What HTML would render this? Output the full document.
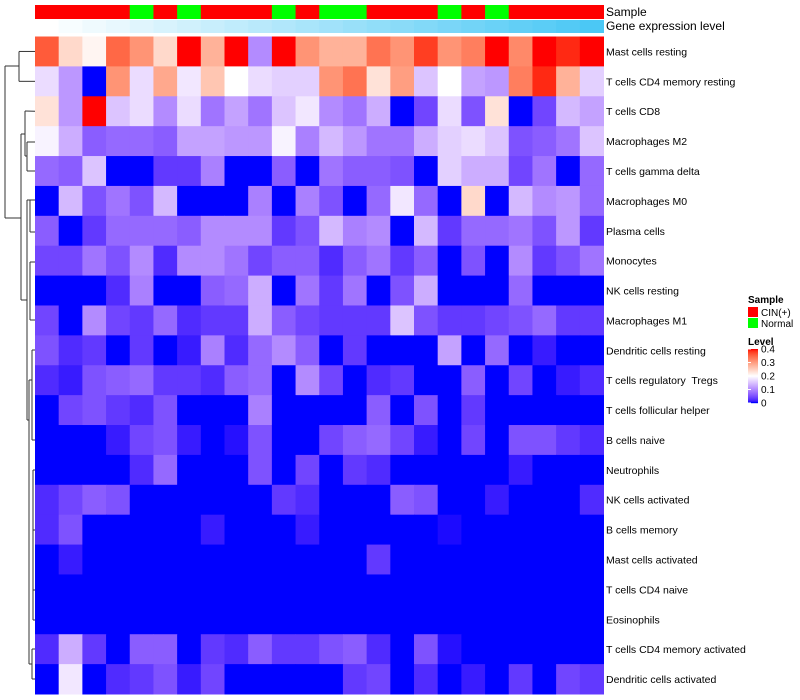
<!DOCTYPE html>
<html><head><meta charset="utf-8"><style>
body{margin:0;background:#fff;width:800px;height:700px;overflow:hidden;font-family:"Liberation Sans",sans-serif}
svg{display:block}
text{white-space:pre}
</style></head><body>
<svg id="c" width="800" height="700" xmlns="http://www.w3.org/2000/svg"></svg>
<script>
const rowNames=["Mast cells resting","T cells CD4 memory resting","T cells CD8","Macrophages M2","T cells gamma delta","Macrophages M0","Plasma cells","Monocytes","NK cells resting","Macrophages M1","Dendritic cells resting","T cells regulatory  Tregs","T cells follicular helper","B cells naive","Neutrophils","NK cells activated","B cells memory","Mast cells activated","T cells CD4 naive","Eosinophils","T cells CD4 memory activated","Dendritic cells activated"];
const sampleGroups=["C","C","C","C","N","C","N","C","C","C","N","C","N","N","C","C","C","N","C","N","C","C","C","C"];
const levelTicks=[0,0.1,0.2,0.3,0.4];
const r0=[0.36,0.24,0.21,0.35,0.31,0.24,0.4,0.28,0.4,0.10,0.4,0.31,0.28,0.28,0.34,0.31,0.38,0.31,0.33,0.4,0.32,0.4,0.39,0.4];
const r1=[0.17,0.11,0,0.31,0.17,0.29,0.18,0.26,0.2,0.17,0.16,0.16,0.31,0.34,0.23,0.30,0.15,0.2,0.12,0.11,0.33,0.39,0.28,0.16];
const r2=[0.23,0.11,0.4,0.15,0.17,0.10,0.17,0.08,0.12,0.08,0.15,0.18,0.10,0.08,0.13,0,0.04,0.17,0.05,0.23,0,0.04,0.14,0.12];
const r3=[0.19,0.13,0.06,0.07,0.07,0.06,0.12,0.12,0.11,0.11,0.19,0.09,0.14,0.11,0.08,0.08,0.13,0.16,0.17,0.15,0.05,0.06,0.08,0.15];
const r4=[0.07,0.06,0.15,0,0,0.03,0.03,0.09,0,0,0.06,0,0.08,0.06,0.06,0.05,0,0.16,0.13,0.13,0.04,0.08,0,0.07];
const r5=[0,0.14,0.05,0.08,0.05,0.14,0,0,0,0.09,0,0.09,0.05,0,0.07,0.18,0.07,0,0.24,0,0.14,0.10,0.11,0.07];
const r6=[0.06,0,0.03,0.07,0.07,0.07,0.06,0.10,0.10,0.10,0.03,0.05,0.14,0.09,0.10,0,0.14,0.03,0.07,0.07,0.08,0.05,0.11,0.03];
const r7=[0.04,0.04,0.08,0.05,0.10,0.02,0.10,0.10,0.08,0.04,0.06,0.06,0.02,0.06,0.08,0.03,0.06,0,0.05,0,0.10,0.03,0.05,0.08];
const r8=[0,0,0,0.02,0.09,0,0,0.06,0.07,0.13,0,0.08,0.03,0.08,0,0.05,0.13,0,0,0,0.07,0,0,0];
const r9=[0.04,0,0.10,0.04,0.03,0.07,0.02,0.03,0.03,0.13,0.06,0.04,0.03,0.03,0.03,0.15,0.05,0.03,0.03,0.04,0.05,0.07,0.03,0.03];
const r10=[0.05,0.02,0.03,0,0.03,0,0.01,0.09,0.02,0.07,0.10,0.06,0,0.03,0,0,0,0.12,0,0.07,0,0.01,0,0];
const r11=[0.02,0.01,0.05,0.06,0.07,0.03,0.03,0.02,0.06,0.07,0,0.10,0.04,0,0.02,0.03,0,0,0.06,0,0.04,0,0.01,0.02];
const r12=[0,0.04,0.05,0.03,0.02,0.05,0,0,0,0.09,0,0,0,0,0.06,0,0.05,0,0.03,0,0,0,0,0];
const r13=[0,0,0,0.01,0.04,0.05,0.01,0,0.005,0.05,0,0,0.04,0.06,0.07,0.04,0.01,0,0.04,0,0.05,0.05,0.03,0.02];
const r14=[0,0,0,0,0.02,0.07,0,0,0,0.05,0,0.04,0,0.03,0.02,0,0,0,0,0,0.01,0,0,0];
const r15=[0.02,0.04,0.06,0.05,0,0,0,0,0,0,0.03,0.02,0,0,0,0.06,0.05,0,0,0.01,0,0,0,0.02];
const r16=[0.02,0.05,0,0,0,0,0,0.01,0,0,0,0.01,0,0,0,0,0,0.003,0,0,0,0,0,0];
const r17=[0,0.01,0,0,0,0,0,0,0,0,0,0,0,0,0.03,0,0,0,0,0,0,0,0,0];
const r18=[0,0,0,0,0,0,0,0,0,0,0,0,0,0,0,0,0,0,0,0,0,0,0,0];
const r19=[0,0,0,0,0,0,0,0,0,0,0,0,0,0,0,0,0,0,0,0,0,0,0,0];
const r20=[0.02,0.13,0.03,0,0.06,0.06,0,0.03,0.02,0.06,0.03,0.03,0.05,0.06,0.02,0,0.05,0.005,0,0,0,0,0,0];
const r21=[0,0.18,0,0.02,0.03,0.05,0.01,0.04,0,0,0,0,0,0.03,0.04,0,0.02,0,0.01,0,0.03,0,0.04,0.03];
const values=[r0,r1,r2,r3,r4,r5,r6,r7,r8,r9,r10,r11,r12,r13,r14,r15,r16,r17,r18,r19,r20,r21];

const NS="http://www.w3.org/2000/svg";
const svg=document.getElementById('c');
const X0=35,X1=603.5,Y0=36.5,Y1=694;
const nC=24,nR=22,cw=(X1-X0)/nC,rh=(Y1-Y0)/nR;
const xPos=i=>X0+i*cw, yPos=j=>Y0+j*rh;
function mk(t,a,p){const e=document.createElementNS(NS,t);for(const k in a)e.setAttribute(k,a[k]);(p||svg).appendChild(e);return e;}
function s2l(c){c/=255;return c<=0.04045?c/12.92:Math.pow((c+0.055)/1.055,2.4);}
function l2s(c){c=c<=0.0031308?12.92*c:1.055*Math.pow(c,1/2.4)-0.055;return Math.max(0,Math.min(255,Math.round(c*255)));}
function toLab(r,g,b){r=s2l(r);g=s2l(g);b=s2l(b);let x=(r*0.4124+g*0.3576+b*0.1805)/0.95047,y=r*0.2126+g*0.7152+b*0.0722,z=(r*0.0193+g*0.1192+b*0.9505)/1.08883;const f=t=>t>0.008856?Math.cbrt(t):7.787*t+16/116;x=f(x);y=f(y);z=f(z);return[116*y-16,500*(x-y),200*(y-z)];}
function fromLab(L,a,b){let y=(L+16)/116,x=a/500+y,z=y-b/200;const fi=t=>t*t*t>0.008856?t*t*t:(t-16/116)/7.787;x=fi(x)*0.95047;y=fi(y);z=fi(z)*1.08883;const r=x*3.2406+y*-1.5372+z*-0.4986,g=x*-0.9689+y*1.8758+z*0.0415,bb=x*0.0557+y*-0.2040+z*1.0570;return`rgb(${l2s(r)},${l2s(g)},${l2s(bb)})`;}
const LB=toLab(0,0,255),LW=toLab(255,255,255),LR=toLab(255,0,0);
function col(v){v=Math.max(0,Math.min(0.4,v));let a,b,t;if(v<=0.2){a=LB;b=LW;t=v/0.2;}else{a=LW;b=LR;t=(v-0.2)/0.2;}return fromLab(a[0]+(b[0]-a[0])*t,a[1]+(b[1]-a[1])*t,a[2]+(b[2]-a[2])*t);}

for(let i=0;i<nC;i++){
  const s=mk('rect',{x:xPos(i),y:5,width:cw+0.5,height:14,fill:sampleGroups[i]==="C"?"#ff0000":"#00ff00"});
  
  
  const t=i/(nC-1);
  const g=mk('rect',{x:xPos(i),y:20,width:cw+0.5,height:13,fill:`rgb(${Math.round(255-t*180)},${Math.round(255-t*55)},${Math.round(255-t*10)})`});
  
  
}
const t1=mk('text',{x:606,y:16,'font-size':12,fill:'#000'});t1.textContent='Sample';


const t2=mk('text',{x:606,y:30,'font-size':12,fill:'#000'});t2.textContent='Gene expression level';



for(let j=0;j<nR;j++){
  for(let i=0;i<nC;i++){
    const r=mk('rect',{x:xPos(i),y:yPos(j),width:cw+0.5,height:rh+0.5,fill:col(values[j][i])});
    
    
  }
  const l=mk('text',{x:606,y:yPos(j)+rh/2+4,'font-size':10.5,fill:'#000','xml:space':'preserve'});
  l.textContent=rowNames[j];
  
  
}

const dg=mk('g',{stroke:'#333','stroke-width':1,fill:'none'});


const ry=j=>yPos(j)+rh/2;
const segs=[
 [19,ry(0),19,ry(1)],[19,ry(0),35,ry(0)],[19,ry(1),35,ry(1)],
 [5,66,5,218],[5,66,19,66],[5,218,21,218],
 [21,134,21,300],[21,134,25,134],[21,300,27,300],
 [25,111,25,156],[25,111,35,ry(2)],[25,156,27,156],
 [27,142,27,171],[27,142,35,142],[27,171,35,171],
 [27,200,27,420],[27,200,30,200],[27,420,29,420],
 [30,200,30,232],[30,200,35,200],[30,232,35,232],
 [30,262,30,320],[30,262,35,262],[30,320,35,320],
 [29,380,29,664],[29,380,32,380],[29,664,32,664],
 [32,350,32,440],[32,350,35,350],[32,440,35,440],
 [33,470,33,620],[33,470,35,470],[33,620,35,620],
 [32,649,32,679],[32,649,35,649],[32,679,35,679],
 [33,500,33,560],[33,530,35,530],[33,590,35,590]
];
segs.forEach(s=>{const ln=mk('line',{x1:s[0],y1:s[1],x2:s[2],y2:s[3]},dg);});

const lg=mk('g',{});


const a=mk('text',{x:748,y:303,'font-size':10,'font-weight':'bold'},lg);a.textContent='Sample';

const e1=mk('rect',{x:748,y:307,width:10,height:10,fill:'#ff0000'},lg);

const e1t=mk('text',{x:761,y:316,'font-size':10},lg);e1t.textContent='CIN(+)';

const e2=mk('rect',{x:748,y:318,width:10,height:10,fill:'#00ff00'},lg);

const e2t=mk('text',{x:761,y:327,'font-size':10},lg);e2t.textContent='Normal';

const b=mk('text',{x:748,y:345,'font-size':10,'font-weight':'bold'},lg);b.textContent='Level';

const GT=349,GB=403;
for(let k=0;k<54;k++){const v=0.4*(1-k/53);const rr=mk('rect',{x:748,y:GT+k,width:10,height:1.2,fill:col(v)},lg);}
levelTicks.forEach(v=>{const y=GB-(v/0.4)*(GB-GT);
 const tk=mk('line',{x1:748,x2:751,y1:y,y2:y,stroke:'#fff'},lg);
 const tt=mk('text',{x:761,y:y+3.5,'font-size':10},lg);tt.textContent=String(v);});
</script>
</body></html>
